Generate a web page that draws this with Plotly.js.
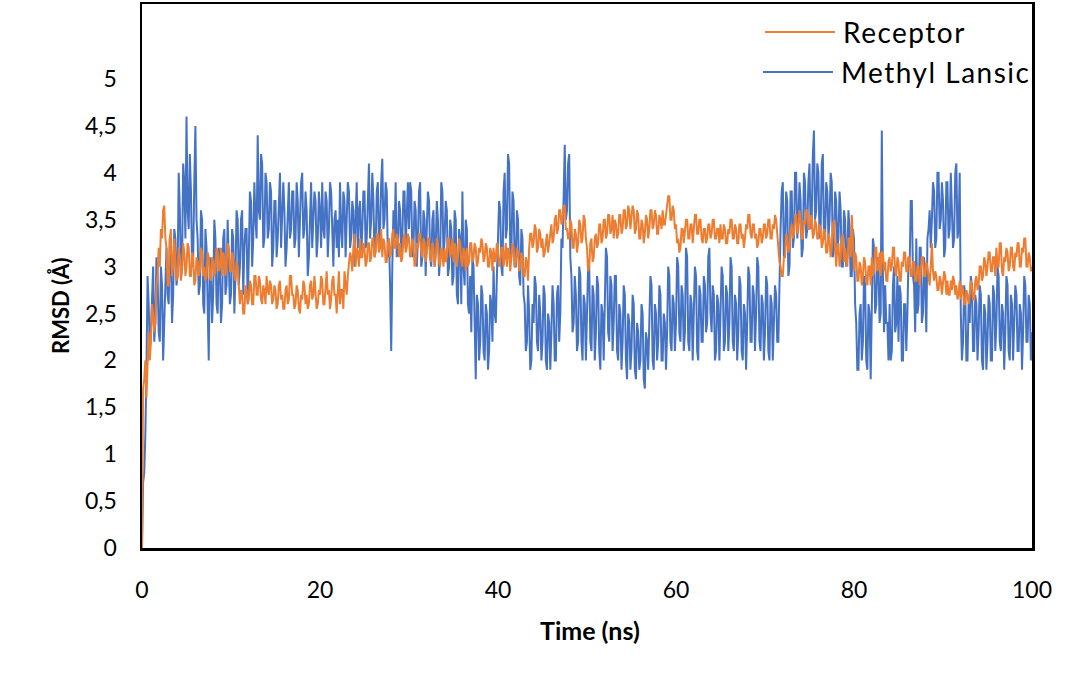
<!DOCTYPE html>
<html>
<head>
<meta charset="utf-8">
<script src="https://cdn.plot.ly/plotly-3.0.1.min.js"></script>
<style>html,body{margin:0;padding:0;background:#fff;}#chart{width:1088px;height:680px;}</style>
</head>
<body>
<div id="chart"></div>
<script>
// Time axis (ns): 0 to 100 at 0.125 ns sampling
var timeStart = 0;
var timeEnd = 100;

// RMSD (Å), 0.125 ns steps (one row = 5 ns)
var methylLansic = [
0,0.7,0.8,1.2,1.9,2.9,2.6,2.1, 2.3,2.7,3.0,2.2,2.4,3.1,2.9,2.3, 2.2,3.0,2.8,2.0,2.5,2.9,3.2,2.7, 2.6,3.3,3.1,2.4,2.7,3.4,3.3,2.8, 2.9,4.0,3.6,2.9,3.0,4.1,3.9,3.3,
4.6,3.6,3.4,4.2,3.8,3.0,3.1,3.9, 4.5,3.5,3.3,2.7,2.8,3.6,3.5,2.6, 2.5,3.4,3.2,2.6,2.0,3.1,2.9,2.4, 2.7,3.5,3.3,2.6,2.5,3.2,3.0,2.4, 2.6,3.3,3.4,2.7,2.8,3.5,3.1,2.6,
2.7,3.4,3.3,2.5,2.9,3.6,3.5,2.8, 3.0,3.5,3.6,2.7,3.2,3.4,3.4,2.6, 3.1,3.8,3.7,3.0,3.3,3.9,3.5,3.3, 4.4,3.6,3.5,4.2,4.1,3.2,3.3,4.0, 3.9,3.3,3.4,3.9,3.8,3.0,3.2,3.7,
3.7,3.1,3.3,3.8,4.0,3.2,3.5,3.9, 3.6,3.0,3.2,3.7,3.9,3.3,3.4,3.8, 3.8,3.2,3.3,3.9,3.7,3.1,3.5,3.9, 4.0,3.3,3.4,3.8,3.6,2.9,3.1,3.7, 3.9,3.2,3.5,3.8,3.7,3.1,3.3,3.8,
3.6,3.2,3.9,3.4,3.3,3.8,3.7,3.1, 3.4,3.9,3.8,3.2,3.0,3.5,3.6,3.2, 3.5,3.1,3.9,3.4,3.2,3.8,3.7,3.1, 3.4,3.9,3.8,3.2,3.3,3.7,3.6,3.0, 3.5,3.9,3.2,3.6,3.7,3.1,3.4,3.8,
3.8,3.2,3.3,3.9,4.1,3.3,3.5,4.0, 3.7,3.1,3.2,3.8,3.9,3.2,3.4,3.9, 4.15,3.4,3.5,3.9,3.8,3.1,3.3,2.8, 2.1,3.0,3.6,3.3,3.9,3.1,3.2,3.7, 3.6,3.1,3.3,3.8,3.8,3.2,3.5,3.9,
3.4,3.9,3.8,3.1,3.2,3.7,3.6,3.0, 3.3,3.8,3.9,3.0,3.1,3.6,3.5,2.9, 3.4,3.8,3.7,3.1,3.0,3.5,3.6,3.0, 3.2,3.7,3.5,2.9,3.1,3.9,3.8,3.1, 3.3,3.7,3.6,2.9,3.0,3.5,3.4,2.8,
2.9,3.6,3.5,2.7,2.6,3.4,3.3,2.6, 3.8,3.0,2.8,3.5,3.4,2.6,2.5,2.9, 2.3,3.1,3.0,2.1,1.8,2.7,2.6,2.0, 2.2,2.8,2.7,2.1,2.0,2.6,2.5,1.9, 2.1,2.7,2.6,2.2,3.0,2.5,2.4,2.9,
3.2,3.7,3.6,3.0,2.9,3.8,4.0,3.3, 3.4,4.2,4.1,3.2,3.1,3.8,3.7,3.0, 3.0,3.6,3.5,2.9,2.8,3.4,3.3,2.7, 2.6,2.1,2.2,2.8,2.5,1.9,2.0,2.6, 2.4,2.9,2.8,2.2,2.1,2.7,2.5,2.0,
2.2,2.8,2.7,2.0,1.9,2.5,2.4,1.9, 2.3,2.8,2.6,2.0,2.0,2.7,2.8,2.2, 2.5,3.3,3.2,3.9,4.3,3.5,3.6,4.1, 4.2,3.1,2.9,2.3,2.4,2.9,2.7,2.1, 2.2,3.0,2.9,2.2,2.0,2.7,2.6,2.0,
2.4,3.0,3.0,2.2,2.1,2.8,2.7,2.0, 2.3,2.9,2.8,2.1,1.9,2.6,2.5,2.0, 2.6,3.2,3.1,2.3,2.2,2.9,2.8,2.1, 2.4,2.9,2.9,2.1,2.0,2.6,2.5,1.9, 2.2,2.8,2.7,2.0,1.8,2.5,2.4,1.9,
2.1,2.7,2.6,1.9,1.8,2.4,2.3,1.9, 2.0,2.6,2.5,1.8,1.7,2.3,2.2,1.9, 2.4,2.9,2.8,2.0,1.9,2.6,2.5,2.0, 2.2,2.8,2.7,2.0,2.0,2.5,2.4,1.9, 2.3,3.0,2.9,2.2,2.1,2.7,2.6,2.1,
2.4,3.1,3.0,2.3,2.2,2.8,2.7,2.1, 2.3,3.2,3.1,2.2,2.1,2.7,2.6,2.0, 2.5,3.0,2.9,2.1,2.0,2.8,2.7,2.2, 2.2,2.9,2.8,2.3,2.4,3.1,3.2,2.5, 2.3,2.8,2.7,2.0,2.1,2.7,2.6,2.0,
2.5,3.0,2.9,2.1,2.2,2.8,2.7,2.1, 2.4,3.1,3.0,2.2,2.1,2.7,2.6,2.0, 2.3,2.9,2.8,2.1,2.0,2.6,2.5,1.9, 2.4,3.0,2.9,2.2,2.2,2.8,2.7,2.1, 2.5,3.1,3.0,2.2,2.1,2.7,2.6,2.0,
2.3,2.9,2.8,2.1,2.0,2.7,2.6,2.0, 2.4,2.8,2.7,2.2,2.2,2.9,3.4,3.8, 3.9,3.1,3.2,3.8,3.7,2.9,3.0,3.8, 3.8,3.2,3.3,4.0,4.0,3.3,3.5,3.9, 3.7,3.1,3.2,4.0,3.9,3.3,3.4,3.9,
4.1,3.4,3.5,4.2,4.45,3.5,3.6,4.1, 4.0,3.3,3.4,4.1,4.2,3.3,3.3,3.9, 3.8,3.3,3.5,4.0,3.9,3.1,3.2,3.8, 3.7,3.2,3.3,3.8,3.6,3.0,3.0,3.6, 3.5,3.0,3.1,3.6,3.4,2.9,2.9,3.4,
3.3,2.6,2.4,1.9,1.9,2.5,2.6,2.0, 2.2,2.9,2.8,2.0,1.9,2.6,2.5,1.8, 2.7,3.3,3.2,2.5,2.6,3.1,3.0,2.4, 2.5,4.45,2.9,2.3,2.8,2.4,2.4,2.0, 2.6,2.0,2.1,2.8,3.0,2.3,2.4,2.9,
2.2,2.8,2.7,2.0,2.0,2.6,2.6,2.1, 2.5,3.1,3.0,3.7,3.7,2.9,2.8,2.3, 3.3,2.5,2.6,3.2,3.2,2.4,2.5,3.1, 2.8,2.3,3.3,3.4,3.6,3.2,3.5,3.9, 3.8,3.2,3.3,4.0,4.0,3.4,3.5,3.9,
3.7,3.1,3.2,3.9,3.9,3.3,3.4,4.0, 3.6,3.2,3.3,4.0,4.1,3.3,3.4,4.0, 2.5,2.0,2.2,2.8,2.7,2.0,2.0,2.6, 2.4,2.9,2.8,2.1,2.1,2.7,2.6,2.0, 2.3,2.8,2.7,2.0,1.9,2.6,2.5,1.9,
2.2,2.7,2.6,2.0,2.0,2.8,2.7,2.1, 2.4,3.0,2.9,2.2,2.1,2.6,2.5,1.9, 2.3,2.9,2.8,2.1,2.0,2.7,2.6,2.0, 2.4,2.8,2.7,2.1,2.1,2.6,2.5,1.9, 2.3,2.9,2.8,2.2,2.2,2.7,2.6,2.0,
2.3
];

var receptor = [
0,1.7,1.8,2.0,1.6,2.1,2.3,2.0, 2.2,2.6,2.5,2.3,2.4,2.8,2.9,3.2, 3.0,3.4,3.3,3.6,3.65,3.3,3.2,2.8, 2.8,3.3,3.4,2.9,3.0,3.3,3.1,2.85, 2.9,3.2,3.1,2.85,2.95,3.25,3.15,2.9,
3.0,3.25,3.2,2.9,2.9,3.15,3.1,2.8, 2.85,3.1,3.05,2.9,2.95,3.2,3.15,2.9, 3.0,2.85,2.9,3.15,3.1,2.9,2.85,3.1, 3.05,2.9,2.95,3.2,3.15,2.95,3.0,3.2, 2.9,3.15,3.1,2.9,3.0,3.25,3.2,2.95,
2.95,3.15,3.1,2.9,2.85,3.05,3.0,2.7, 2.6,2.75,2.7,2.5,2.5,2.8,2.75,2.6, 2.65,2.85,2.8,2.6,2.6,2.9,2.9,2.7, 2.7,2.9,2.85,2.65,2.6,2.8,2.75,2.6, 2.9,2.75,2.7,2.85,2.8,2.6,2.65,2.8,
2.75,2.55,2.6,2.8,2.85,2.65,2.7,2.55, 2.55,2.75,2.8,2.6,2.65,2.9,2.9,2.7, 2.7,2.55,2.6,2.8,2.75,2.55,2.5,2.7, 2.65,2.85,2.8,2.6,2.7,2.55,2.6,2.8, 2.85,2.65,2.7,2.9,2.75,2.55,2.6,2.75,
2.7,2.9,2.85,2.6,2.6,2.8,2.95,2.7, 2.75,2.55,2.65,2.85,2.9,2.7,2.7,2.5, 2.8,2.95,2.6,2.75,2.75,2.55,2.95,2.8, 2.7,2.9,3.0,3.15,3.1,2.95,3.2,3.35, 3.0,3.2,3.15,3.0,3.3,3.1,3.1,3.25,
3.2,3.0,3.05,3.25,3.25,3.05,3.1,3.3, 3.3,3.1,3.15,3.35,3.35,3.15,3.2,3.4, 3.1,3.3,3.25,3.05,3.05,3.25,3.3,3.1, 3.15,3.35,3.4,3.2,3.2,3.35,3.3,3.1, 3.25,3.05,3.1,3.3,3.35,3.15,3.2,3.35,
3.3,3.1,3.15,3.3,3.25,3.0,3.05,3.25, 3.2,3.35,3.35,3.15,3.1,3.3,3.25,3.05, 3.15,3.3,3.3,3.1,3.05,3.25,3.2,3.0, 3.1,3.3,3.25,3.05,3.0,3.2,3.15,3.0, 3.2,3.05,3.1,3.3,3.3,3.1,3.15,3.3,
3.05,3.25,3.2,3.0,3.1,3.3,3.25,3.05, 3.0,3.2,3.15,2.95,3.2,3.0,3.05,3.25, 3.25,3.05,3.1,3.25,3.2,3.0,3.05,3.2, 3.15,3.3,3.25,3.05,3.1,3.25,3.2,3.0, 3.0,3.2,3.15,2.95,3.2,3.05,3.1,3.25,
3.15,3.0,3.05,3.2,3.2,3.0,3.1,3.25, 3.0,3.2,3.15,2.95,3.1,3.25,3.2,3.0, 3.05,3.2,3.15,2.95,3.0,3.15,3.1,2.9, 2.9,3.1,3.05,2.85,3.2,3.35,3.35,3.2, 3.25,3.45,3.4,3.15,3.2,3.4,3.35,3.2,
3.3,3.1,3.15,3.3,3.35,3.15,3.25,3.4, 3.45,3.25,3.3,3.5,3.55,3.35,3.4,3.6, 3.6,3.45,3.5,3.65,3.65,3.4,3.4,3.3, 3.3,3.5,3.45,3.2,3.2,3.4,3.35,3.15, 3.25,3.5,3.45,3.25,3.3,3.55,3.5,3.3,
3.2,2.95,3.0,3.25,3.3,3.05,3.1,3.3, 3.35,3.2,3.25,3.45,3.45,3.25,3.3,3.5, 3.5,3.3,3.35,3.55,3.55,3.35,3.4,3.55, 3.3,3.5,3.45,3.3,3.35,3.55,3.55,3.35, 3.4,3.6,3.6,3.4,3.45,3.65,3.6,3.4,
3.5,3.65,3.6,3.35,3.4,3.6,3.55,3.3, 3.3,3.5,3.45,3.25,3.35,3.55,3.5,3.3, 3.4,3.6,3.6,3.4,3.45,3.6,3.55,3.35, 3.35,3.55,3.5,3.4,3.6,3.45,3.45,3.6, 3.65,3.75,3.75,3.5,3.5,3.65,3.6,3.4,
3.45,3.25,3.3,3.15,3.2,3.4,3.4,3.25, 3.35,3.5,3.5,3.3,3.3,3.45,3.45,3.25, 3.4,3.55,3.55,3.35,3.35,3.5,3.5,3.3, 3.25,3.4,3.4,3.25,3.3,3.45,3.45,3.3, 3.35,3.5,3.5,3.3,3.3,3.4,3.4,3.25,
3.45,3.3,3.3,3.45,3.4,3.25,3.25,3.4, 3.35,3.5,3.5,3.3,3.3,3.45,3.4,3.25, 3.25,3.45,3.45,3.3,3.35,3.2,3.3,3.45, 3.4,3.55,3.55,3.35,3.3,3.45,3.45,3.3, 3.35,3.2,3.25,3.4,3.4,3.25,3.3,3.45,
3.45,3.3,3.35,3.5,3.5,3.3,3.3,3.45, 3.4,3.55,3.5,3.3,3.2,3.05,3.0,2.9, 2.9,3.1,3.1,3.35,3.3,3.15,3.2,3.4, 3.45,3.3,3.35,3.55,3.55,3.35,3.4,3.6, 3.5,3.3,3.3,3.5,3.45,3.6,3.6,3.4,
3.4,3.55,3.5,3.3,3.35,3.5,3.45,3.3, 3.3,3.45,3.4,3.2,3.25,3.4,3.35,3.15, 3.15,3.35,3.3,3.1,3.2,3.45,3.5,3.2, 3.0,3.2,3.25,3.0,3.1,3.3,3.35,3.05, 3.2,3.05,3.0,3.3,3.3,3.1,3.55,3.3,
2.95,3.15,3.1,2.85,2.85,3.05,3.0,2.8, 2.9,3.1,3.05,2.85,2.8,3.0,3.0,2.8, 3.1,2.9,2.95,3.2,3.2,2.95,3.0,3.15, 2.9,3.15,3.15,2.95,3.05,2.85,2.85,3.05, 3.1,2.95,3.0,3.2,3.2,2.95,2.9,3.1,
3.05,2.85,2.85,3.05,3.0,3.15,3.15,2.95, 2.95,3.1,3.1,2.9,2.9,3.05,3.05,2.85, 2.85,3.0,3.0,2.8,2.95,3.1,3.1,2.9, 2.9,3.05,3.0,2.85,2.8,3.0,3.25,2.95, 2.85,2.95,2.9,2.75,2.75,2.9,2.85,2.7,
2.8,2.95,2.9,2.7,2.85,2.7,2.7,2.85, 2.75,2.9,2.85,2.7,2.8,2.65,2.7,2.85, 2.65,2.8,2.75,2.6,2.6,2.75,2.7,2.6, 2.7,2.85,2.8,2.65,2.65,2.85,2.9,2.75, 2.8,3.0,3.0,2.85,2.9,3.1,3.05,2.9,
3.0,3.15,3.15,2.95,2.95,3.1,3.1,2.9, 3.2,3.0,3.0,3.25,3.25,2.95,2.9,3.1, 3.05,3.2,3.15,2.95,3.0,3.2,3.2,3.0, 2.95,3.15,3.1,3.25,3.25,3.0,3.0,3.2, 3.15,3.3,3.3,3.0,3.0,3.15,3.1,2.95,
3.0
];

var xTickVals = [0, 20, 40, 60, 80, 100];
var yTickVals = [0, 0.5, 1, 1.5, 2, 2.5, 3, 3.5, 4, 4.5, 5];
var yTickText = ["0", "0,5", "1", "1,5", "2", "2,5", "3", "3,5", "4", "4,5", "5"];
var seriesNames = ["Receptor", "Methyl Lansic"];
var seriesColors = ["#ED7D31", "#4472C4"];

function timesFor(arr) {
  var t = [];
  for (var i = 0; i < arr.length; i++) t.push(timeStart + i * (timeEnd - timeStart) / (arr.length - 1));
  return t;
}

var traces = [
  {x: timesFor(methylLansic), y: methylLansic, type: "scatter", mode: "lines", name: seriesNames[1],
   line: {color: seriesColors[1], width: 2}},
  {x: timesFor(receptor), y: receptor, type: "scatter", mode: "lines", name: seriesNames[0],
   line: {color: seriesColors[0], width: 2}}
];

var font = "Lato, 'Open Sans', sans-serif";
function px2x(p) { return (p - 142) / 890; }
function px2y(p) { return (548 - p) / 544; }

var layout = {
  width: 1088, height: 680,
  margin: {l: 142, r: 56, t: 4, b: 132},
  paper_bgcolor: "#fff", plot_bgcolor: "#fff",
  showlegend: false,
  font: {family: font, color: "#000", size: 23},
  xaxis: {
    range: [0, 100], tickvals: xTickVals, ticks: "", ticklabelstandoff: 20,
    showgrid: false, zeroline: false, showline: true, mirror: true,
    linecolor: "#000", linewidth: 2.5, tickfont: {family: font, size: 23, color: "#000"}
  },
  yaxis: {
    range: [0, 5.8], tickvals: yTickVals, ticktext: yTickText, ticks: "", ticklabelstandoff: 18,
    showgrid: false, zeroline: false, showline: true, mirror: true,
    linecolor: "#000", linewidth: 2.5, tickfont: {family: font, size: 23, color: "#000"}
  },
  shapes: [
    {type: "line", xref: "paper", yref: "paper", x0: px2x(765), x1: px2x(835), y0: px2y(32), y1: px2y(32),
     line: {color: seriesColors[0], width: 2}},
    {type: "line", xref: "paper", yref: "paper", x0: px2x(763), x1: px2x(833), y0: px2y(72), y1: px2y(72),
     line: {color: seriesColors[1], width: 2}}
  ],
  annotations: [
    {text: "<span style=\"letter-spacing:1.5px\">" + seriesNames[0] + "</span>", xref: "paper", yref: "paper", x: px2x(841), y: px2y(32), xanchor: "left", yanchor: "middle",
     showarrow: false, font: {family: font, size: 28, color: "#000"}},
    {text: "<span style=\"letter-spacing:1.5px\">" + seriesNames[1] + "</span>", xref: "paper", yref: "paper", x: px2x(839), y: px2y(72), xanchor: "left", yanchor: "middle",
     showarrow: false, font: {family: font, size: 28, color: "#000"}},
    {text: "<b>Time (ns)</b>", xref: "paper", yref: "paper", x: px2x(590), y: px2y(630), xanchor: "center", yanchor: "middle",
     showarrow: false, font: {family: font, size: 25, color: "#000"}},
    {text: "<b>RMSD (Å)</b>", xref: "paper", yref: "paper", x: px2x(60), y: px2y(306), xanchor: "center", yanchor: "middle",
     textangle: -90, showarrow: false, font: {family: font, size: 22, color: "#000"}}
  ]
};

Plotly.newPlot("chart", traces, layout, {displayModeBar: false, staticPlot: true});
</script>
</body>
</html>
